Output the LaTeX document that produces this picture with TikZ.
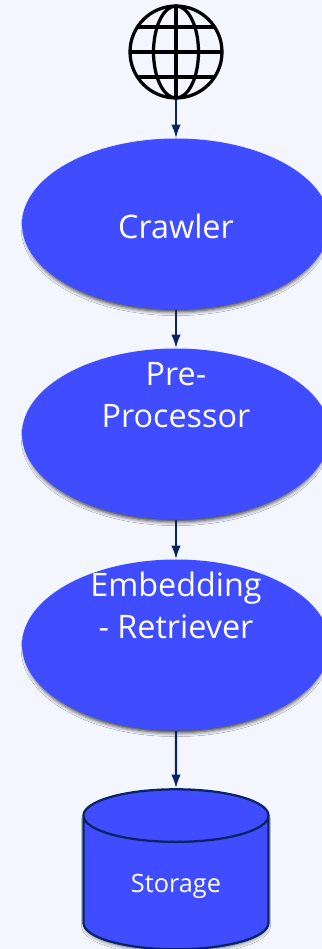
\documentclass[tikz,border=0pt]{standalone}
\usepackage{fontspec}
\setmainfont{Open Sans}
\usetikzlibrary{shapes.geometric, shadows.blur, arrows.meta}

\definecolor{pageblue}{HTML}{F3F6FF}
\definecolor{stageblue}{HTML}{3F4CFF}
\definecolor{linknavy}{HTML}{0A2463}

\tikzset{
    stage/.style={ellipse, fill=stageblue, text=white, align=center, inner sep=0pt,
        minimum width=6.16cm, minimum height=3.42cm, text height=0.58cm,
        font=\fontsize{18.4}{23.9}\selectfont,
        blur shadow={shadow xshift=0pt, shadow yshift=-0.08cm, shadow scale=0.98, shadow blur radius=0.08cm, shadow opacity=80}},
    store/.style={cylinder, shape border rotate=90, aspect=0.584, fill=stageblue, draw=linknavy, line width=0.045cm,
        text=white, inner sep=0pt, minimum width=3.7cm, minimum height=3.2cm, text height=0.52cm,
        font=\fontsize{14.4}{15}\selectfont,
        blur shadow={shadow xshift=0pt, shadow yshift=-0.07cm, shadow scale=0.98, shadow blur radius=0.08cm, shadow opacity=60}},
    link/.style={-{Latex[length=0.27cm, width=0.19cm]}, linknavy, line width=0.045cm, shorten >=0pt},
    globeline/.style={black, line width=0.065cm}
}

\begin{document}
\begin{tikzpicture}
    \useasboundingbox[fill=pageblue] (0, 0) rectangle (6.44, 18.98);

    % Globe at the top
    \node[circle, draw=black, line width=0.065cm, minimum size=1.84cm, inner sep=0pt] (globe) at (3.52, 17.94) {};
    \draw[globeline] (3.52, 18.84) -- (3.52, 17.04);
    \draw[globeline] (2.62, 17.94) -- (4.42, 17.94);
    \draw[globeline] (2.74, 18.44) -- (4.30, 18.44);
    \draw[globeline] (2.74, 17.44) -- (4.30, 17.44);
    \draw[globeline] (3.52, 17.94) ellipse (0.45 and 0.92);

    % Stages
    \node[stage] (crawler) at (3.52, 14.5) {Crawler};
    \node[stage, text depth=0.84cm] (preprocessor) at (3.52, 10.3) {Pre-\\Processor};
    \node[stage, text depth=0.84cm] (embedding) at (3.52, 6.08) {Embedding\\- Retriever};
    \node[store] (storage) at (3.52, 1.32) {Storage};

    \draw[link] (globe) -- (crawler);
    \draw[link] (crawler) -- (preprocessor);
    \draw[link] (preprocessor) -- (embedding);
    \draw[link] (embedding) -- (storage);

\end{tikzpicture}
\end{document}
